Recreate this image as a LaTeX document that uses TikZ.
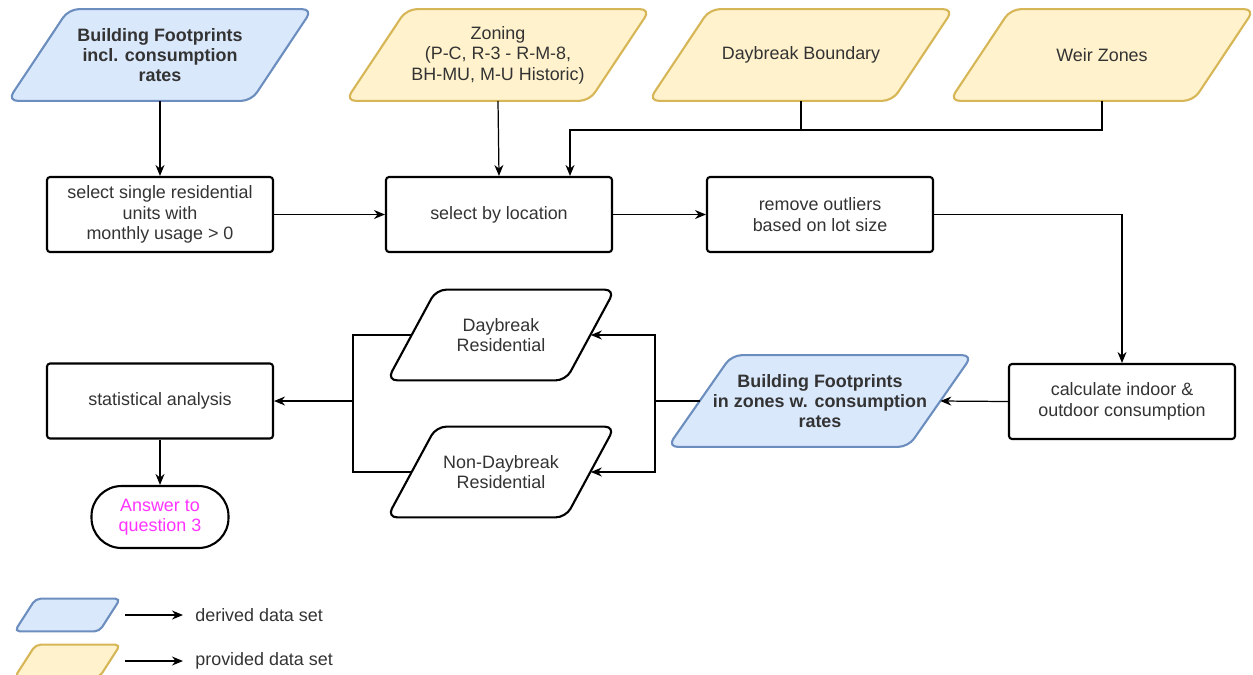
\documentclass[tikz,border=0pt]{standalone}
\usepackage{fontspec}
\setmainfont{Liberation Sans}
\usetikzlibrary{calc,arrows.meta}
\pgfdeclarelayer{background}
\pgfsetlayers{background,main}
\definecolor{bfill}{HTML}{DAE8FC}
\definecolor{bdraw}{HTML}{6C8EBF}
\definecolor{yfill}{HTML}{FFF2CC}
\definecolor{ydraw}{HTML}{D6B656}
\definecolor{txt}{HTML}{333333}
\definecolor{qmag}{HTML}{FF33FF}
\newcommand\drawpara[3]{\begin{pgfonlayer}{background}\draw[#3] ($(#1.north west)+(#2,0)$) -- (#1.north east) -- ($(#1.south east)+(-#2,0)$) -- (#1.south west) -- cycle;\end{pgfonlayer}}
\begin{document}
\begin{tikzpicture}[x=0.02cm,y=-0.02cm,
  every node/.style={font=\fontsize{10.2}{11.6}\selectfont, text=txt},
  procbox/.style={draw=black, line width=1.2pt, rounded corners=0.06cm, minimum width=4.52cm, minimum height=1.5cm, align=center, inner sep=0pt},
  para/.style={minimum width=6.08cm, minimum height=1.82cm, align=center, inner sep=0pt},
  respara/.style={minimum width=4.54cm, minimum height=1.8cm, align=center, inner sep=0pt},
  legpara/.style={minimum width=2.1cm, minimum height=0.64cm, inner sep=0pt},
  bluesty/.style={fill=bfill, draw=bdraw, line width=1.2pt, rounded corners=0.2cm},
  yelsty/.style={fill=yfill, draw=ydraw, line width=1.2pt, rounded corners=0.2cm},
  whitesty/.style={fill=white, draw=black, line width=1.2pt, rounded corners=0.2cm},
  legblue/.style={fill=bfill, draw=bdraw, line width=1.2pt, rounded corners=0.1cm},
  legyel/.style={fill=yfill, draw=ydraw, line width=1.2pt, rounded corners=0.1cm},
  conn/.style={line width=0.7pt, -{Stealth[length=0.22cm,width=0.18cm]}},
  wire/.style={line width=0.7pt}]
\useasboundingbox (0,0) rectangle (1253,674);

% input data sets
\node[para] (bf1) at (160,55) {\bfseries Building Footprints\\\bfseries incl. consumption\\\bfseries rates};
\drawpara{bf1}{61}{bluesty}
\node[para] (zon) at (498,55) {Zoning\\(P-C, R-3 - R-M-8,\\BH-MU, M-U Historic)};
\drawpara{zon}{61}{yelsty}
\node[para] (dayb) at (801,55) {Daybreak Boundary};
\drawpara{dayb}{61}{yelsty}
\node[para] (weir) at (1102,55) {Weir Zones};
\drawpara{weir}{61}{yelsty}

% processing row
\node[procbox] (sel1) at (160,214.5) {select single residential\\units with\\monthly usage \textgreater{} 0};
\node[procbox] (selloc) at (499,214.5) {select by location};
\node[procbox] (outl) at (820,214.5) {remove outliers\\based on lot size};

% third row
\node[procbox] (calc) at (1122,401.5) {calculate indoor \&\\outdoor consumption};
\node[para] (bf2) at (820,401) {\bfseries Building Footprints\\\bfseries in zones w. consumption\\\bfseries rates};
\drawpara{bf2}{64}{bluesty}
\node[respara] (dres) at (501,335) {Daybreak\\Residential};
\drawpara{dres}{49}{whitesty}
\node[respara] (ndres) at (501,472) {Non-Daybreak\\Residential};
\drawpara{ndres}{49}{whitesty}
\node[procbox] (stat) at (160,401) {statistical analysis};
\node[draw=black, line width=1.2pt, rounded corners=0.6cm, minimum width=2.74cm, minimum height=1.24cm, align=center, inner sep=0pt, text=qmag] (ans) at (160,517) {Answer to\\question 3};

% connectors
\coordinate (j) at (570,130);
\coordinate (s) at (655,401);
\coordinate (t) at (353,401);
\draw[conn] (bf1.south) -- (sel1.north);
\draw[conn] (zon.south) -- (selloc.north);
\draw[conn] (weir.south) |- (j) -- (j |- selloc.north);
\draw[wire] (dayb.south) -- (dayb.south |- j);
\draw[conn] (sel1.east) -- (selloc.west);
\draw[conn] (selloc.east) -- (outl.west);
\draw[conn] (outl.east) -| (calc.north);
\draw[conn] (calc.west) -- ($(bf2.east)+(-32,0)$);
\draw[wire] ($(bf2.west)+(32,0)$) -- (s);
\draw[conn] (s) |- ($(dres.east)+(-24,0)$);
\draw[conn] (s) |- ($(ndres.east)+(-24,0)$);
\draw[wire] ($(dres.west)+(24,0)$) -| (t);
\draw[wire] ($(ndres.west)+(24,0)$) -| (t);
\draw[conn] (t) -- (stat.east);
\draw[conn] (stat.south) -- (ans.north);

% legend
\node[legpara] (leg1) at (67.5,615) {};
\drawpara{leg1}{21}{legblue}
\node[legpara] (leg2) at (67.5,661) {};
\drawpara{leg2}{21}{legyel}
\node[anchor=west, inner sep=0pt] (lt1) at (195,615) {derived data set};
\node[anchor=west, inner sep=0pt] (lt2) at (195,661) {provided data set};
\draw[conn] ($(leg1.east)+(5,0)$) -- ($(lt1.west)+(-12,0)$);
\draw[conn] ($(leg2.east)+(5,0)$) -- ($(lt2.west)+(-12,0)$);
\end{tikzpicture}
\end{document}
